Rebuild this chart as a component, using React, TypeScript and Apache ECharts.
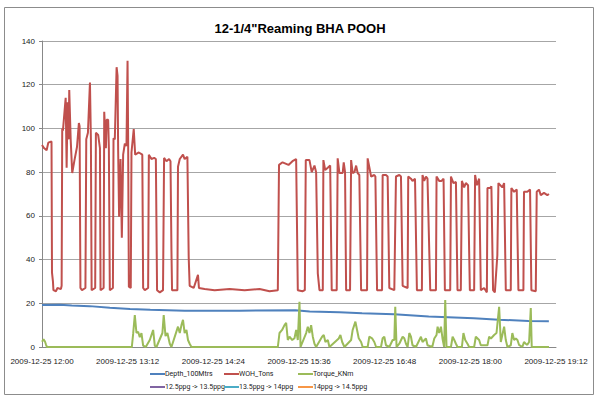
import React, { useEffect, useRef } from "react";
import * as echarts from "echarts";

// Chart texts
const TITLE = '12-1/4"Reaming BHA POOH';
const DATE_PREFIX = "2009-12-25";
const START_HOUR = 12;
// x values are minutes after 12:00
const X_MIN = 0;
const X_MAX = 432;
const X_STEP = 72;
const Y_MIN = 0;
const Y_MAX = 140;
const Y_STEP = 20;

const SERIES_NAMES = [
  "Depth_100Mtrs",
  "WOH_Tons",
  "Torque_KNm",
  "12.5ppg -> 13.5ppg",
  "13.5ppg -> 14ppg",
  "14ppg -> 14.5ppg",
];
const SERIES_COLORS = ["#4F81BD", "#C0504D", "#9BBB59", "#8064A2", "#4BACC6", "#F79646"];

const depth: [number, number][] = [
  [0, 19.2], [15, 19.3], [25, 19.0], [40, 18.7], [57, 18.0], [74, 17.4], [91, 17.0],
  [120, 16.6], [166, 16.6], [213, 16.8], [225, 16.2], [250, 15.9], [269, 15.4],
  [296, 15.0], [325, 14.0], [363, 13.2], [384, 12.5], [409, 11.9], [426, 11.8],
];

const woh: [number, number][] = [
  [0, 92.4], [1.7, 91], [3.9, 90], [5.3, 93.5], [8.0, 94], [8.4, 34], [9.2, 30], [9.6, 26],
  [11.7, 25.5], [13.0, 27], [15.9, 26.5], [16.5, 28], [17.0, 100], [17.6, 99], [19.9, 114],
  [20.7, 82], [21.5, 112], [22.4, 95], [22.9, 117.6], [24.1, 95], [25.4, 79.6], [27.3, 85.5],
  [29.4, 91.5], [31.0, 102.5], [31.6, 101], [32.3, 27], [33.6, 26], [36.5, 27], [37.2, 95],
  [38.6, 98], [40.3, 121], [41.1, 95], [41.7, 26], [44.7, 27], [45.3, 98], [47.2, 97],
  [48.7, 91], [49.2, 26], [51.8, 27], [52.3, 107.6], [53.7, 91], [54.3, 104], [55.6, 104],
  [56.2, 91], [57.0, 26], [59.6, 27], [60.1, 95.5], [61.2, 95], [62.7, 128], [63.5, 124],
  [64.0, 90], [64.8, 59.6], [66.0, 86], [67.1, 50], [68.2, 88], [69.6, 93], [71.0, 92],
  [71.9, 131], [72.4, 95], [73.0, 27.6], [74.6, 27], [75.2, 89], [77.1, 99.7], [78.3, 88],
  [81.4, 89], [84.3, 88], [85.0, 27], [86.4, 26], [89.2, 27], [89.8, 88], [92.0, 86],
  [94.3, 86.5], [95.7, 86], [96.7, 26], [99.0, 25], [101.7, 26], [102.6, 86.5], [104.6, 85],
  [106.8, 86], [108.0, 85], [108.8, 44], [109.3, 26], [113.8, 26], [114.3, 82.5], [115.8, 86],
  [118.5, 88], [119.9, 86], [122.2, 87], [123.3, 41], [124.1, 28], [127.5, 27], [131.1, 33],
  [131.9, 27], [136.7, 26.5], [145.1, 26], [157.7, 26.5], [170.3, 26], [182.9, 26.5],
  [191.2, 25.5], [198.2, 26], [199.2, 83.3], [202.2, 84.5], [207.2, 83.3], [210.5, 85],
  [213.6, 86], [215.0, 26], [218.9, 25.5], [220.9, 26], [221.7, 85.5], [224.8, 85.5],
  [226.7, 80], [229.0, 83], [230.4, 80], [231.8, 33.7], [233.2, 26], [236.0, 26], [236.5, 85.5],
  [238.0, 81], [240.2, 82], [242.2, 83], [243.5, 26], [247.7, 26], [248.5, 86.3], [250.0, 79.6],
  [252.7, 79.6], [253.6, 84.5], [254.7, 80], [255.6, 26], [258.9, 26], [259.8, 85.5],
  [261.1, 79.6], [262.6, 80], [264.0, 83], [265.3, 79.6], [266.7, 78.7], [268.2, 26],
  [273.2, 26], [273.7, 86.3], [276.6, 78], [279.3, 78.7], [280.2, 78], [281.6, 26], [285.8, 26],
  [286.3, 78.7], [289.1, 78.7], [290.5, 78], [291.9, 27], [296.1, 26], [297.5, 78], [300.3, 78.7],
  [301.7, 78], [303.1, 28], [307.3, 27], [307.8, 78], [310.1, 77], [311.4, 76], [313.5, 77],
  [315.1, 26], [319.3, 26], [319.8, 78.7], [321.2, 76], [322.7, 78], [324.0, 77], [326.3, 26],
  [331.1, 26], [331.6, 78], [333.8, 76], [335.8, 76], [337.5, 77], [338.6, 26], [343.1, 26],
  [343.7, 78], [345.8, 75], [347.9, 75.5], [349.2, 26], [352.0, 26], [352.9, 76], [354.8, 73],
  [356.2, 75], [358.1, 74], [359.0, 44], [359.6, 26], [363.2, 26], [364.0, 78.7], [365.5, 74],
  [367.4, 77], [368.8, 26], [371.6, 27], [373.9, 25], [374.4, 72.7], [376.6, 72.7], [377.7, 73.5],
  [379.1, 26], [380.6, 25], [382.7, 42], [383.6, 75], [386.9, 73], [388.4, 75], [389.8, 26],
  [394.0, 26], [394.5, 72.7], [396.8, 71], [399.0, 72], [400.4, 26], [404.6, 26], [405.1, 71],
  [407.9, 71], [410.2, 72], [411.3, 26], [415.0, 25.5], [415.8, 71], [417.7, 72], [419.2, 69.5],
  [421.9, 70.5], [424.7, 69.5], [426.1, 70],
];

const torque: [number, number][] = [
  [0, 2.4], [1.3, 3.5], [2.5, 2.5], [3.4, 1], [4.2, 0], [75.5, 0], [76.6, 6], [78.0, 14.6],
  [79.4, 6.4], [80.8, 7], [82.2, 4.5], [83.6, 6.4], [85.0, 0.6], [87.2, 0], [90.6, 3.2],
  [93.4, 7.8], [94.8, 0.6], [96.2, 0], [101.2, 6.4], [102.3, 14.6], [103.8, 5], [105.4, 6.4],
  [107.4, 1.5], [108.8, 0], [114.3, 9.3], [115.8, 6.4], [117.2, 10], [118.5, 12.4], [119.9, 6.4],
  [121.4, 7.8], [122.7, 3.2], [124.1, 1.5], [125.6, 0], [198.2, 0], [199.6, 6.4], [201.8, 7.8],
  [203.8, 10], [205.2, 11], [206.6, 3.2], [208.0, 4.7], [210.3, 3.2], [212.2, 4], [213.6, 7.8],
  [215.0, 3.2], [216.4, 20.7], [217.3, 0], [222.0, 6.4], [223.4, 9.3], [224.8, 6.4], [226.2, 10],
  [227.6, 4.7], [229.0, 1.5], [230.4, 0], [235.4, 4.7], [236.8, 5.5], [238.2, 2.3], [240.2, 3.2],
  [241.6, 0], [249.4, 3.9], [250.8, 5.5], [252.3, 2.3], [254.2, 0], [259.8, 3.2], [261.1, 7.8],
  [263.4, 11.6], [264.8, 7.8], [266.2, 4], [268.2, 2.3], [269.5, 0], [273.7, 0], [275.1, 4.7],
  [277.4, 4], [279.3, 2.3], [280.8, 0], [284.9, 0], [286.3, 4], [287.7, 4.7], [289.1, 0.8],
  [291.9, 0], [294.7, 3.2], [296.1, 3.2], [296.9, 18.4], [298.0, 0], [300.3, 1.5], [303.1, 4.7],
  [304.5, 4], [305.9, 1.5], [307.3, 0], [308.7, 6.4], [310.1, 4.7], [311.4, 0.8], [314.3, 0],
  [318.5, 4.7], [319.8, 2.3], [322.7, 3.9], [324.0, 0.8], [328.0, 0], [329.7, 3.9], [331.6, 5.5],
  [332.5, 9.3], [333.8, 6.4], [335.3, 9.3], [336.6, 3.9], [338.0, 0], [338.9, 21.5], [340.0, 0],
  [343.7, 0], [345.1, 4.7], [346.5, 3.2], [347.9, 1.5], [349.2, 0], [352.9, 0], [354.2, 6.4],
  [355.7, 3.2], [357.6, 1.5], [359.0, 0], [363.2, 0], [364.6, 4.7], [367.4, 3.2], [368.8, 0.8],
  [374.4, 0.8], [375.8, 4.7], [377.3, 3.9], [380.0, 5.5], [382.0, 6.4], [384.2, 18.4],
  [385.6, 2.3], [386.9, 5.5], [388.4, 9.3], [389.8, 3.2], [391.2, 0], [394.0, 0.8], [395.3, 6.4],
  [396.8, 3.2], [398.2, 3.9], [399.6, 3.2], [400.9, 1], [403.7, 0], [405.1, 2.3], [406.5, 1.5],
  [407.9, 1], [409.4, 2.3], [410.8, 17.8], [411.6, 0], [426.1, 0],
];

const SERIES_DATA: [number, number][][] = [depth, woh, torque, [], [], []];
// legend columns (indices into SERIES_NAMES)
const LEGEND_COLUMNS = [[0, 3], [1, 4], [2, 5]];

const pad = (n: number) => (n < 10 ? "0" + n : String(n));
const fmtTime = (v: number) => {
  const total = START_HOUR * 60 + Math.round(v);
  return `${DATE_PREFIX} ${pad(Math.floor(total / 60))}:${pad(total % 60)}`;
};

export default function App() {
  const ref = useRef<HTMLDivElement>(null);
  useEffect(() => {
    if (!ref.current) return;
    const chart = echarts.init(ref.current, null, { renderer: "svg" });
    const font = "Liberation Sans";
    const legendFont = "Roboto";
    const legendLefts = [150, 224, 298];
    chart.setOption({
      animation: false,
      title: {
        text: TITLE,
        left: "center",
        top: 17,
        textStyle: { fontFamily: font, fontWeight: "bold", fontSize: 13, color: "#000" },
      },
      graphic: [
        {
          type: "rect",
          silent: true,
          z: -10,
          shape: { x: 4.5, y: 7.5, width: 589, height: 387 },
          style: { fill: "none", stroke: "#8c8c8c", lineWidth: 1 },
        },
      ],
      grid: { left: 42, right: 44, top: 41, bottom: 52, outerBoundsMode: "none" },
      xAxis: {
        type: "value",
        min: X_MIN,
        max: X_MAX,
        interval: X_STEP,
        axisLine: { show: true, lineStyle: { color: "#888", width: 1 } },
        axisTick: { show: false },
        splitLine: { show: false },
        axisLabel: {
          formatter: (v: number) => fmtTime(v),
          fontFamily: font,
          fontSize: 8,
          color: "#222",
          margin: 10,
        },
      },
      yAxis: {
        type: "value",
        min: Y_MIN,
        max: Y_MAX,
        interval: Y_STEP,
        axisLine: { show: true, lineStyle: { color: "#888", width: 1 } },
        axisTick: { show: true, length: 3, lineStyle: { color: "#888" } },
        splitLine: { show: true, lineStyle: { color: "#a6a6a6", width: 1 } },
        axisLabel: { fontFamily: font, fontSize: 8, color: "#222", margin: 7 },
      },
      legend: LEGEND_COLUMNS.map((col, i) => ({
        orient: "vertical",
        left: legendLefts[i],
        top: 369,
        padding: 0,
        itemGap: 3,
        itemWidth: 15,
        itemHeight: 2,
        icon: "rect",
        selectedMode: false,
        data: col.map((k) => SERIES_NAMES[k]),
        textStyle: {
          fontFamily: legendFont,
          fontSize: 7,
          color: "#222",
          padding: [0, 0, 0, -5],
          height: 10,
          lineHeight: 10,
        },
      })),
      series: SERIES_NAMES.map((name, i) => ({
        name,
        type: "line",
        data: SERIES_DATA[i],
        symbol: "none",
        showSymbol: false,
        lineStyle: { color: SERIES_COLORS[i], width: 2 },
        itemStyle: { color: SERIES_COLORS[i] },
      })),
    });
    return () => chart.dispose();
  }, []);
  return (
    <div
      ref={ref}
      style={{ position: "absolute", left: 0, top: 0, width: 600, height: 399 }}
    />
  );
}
